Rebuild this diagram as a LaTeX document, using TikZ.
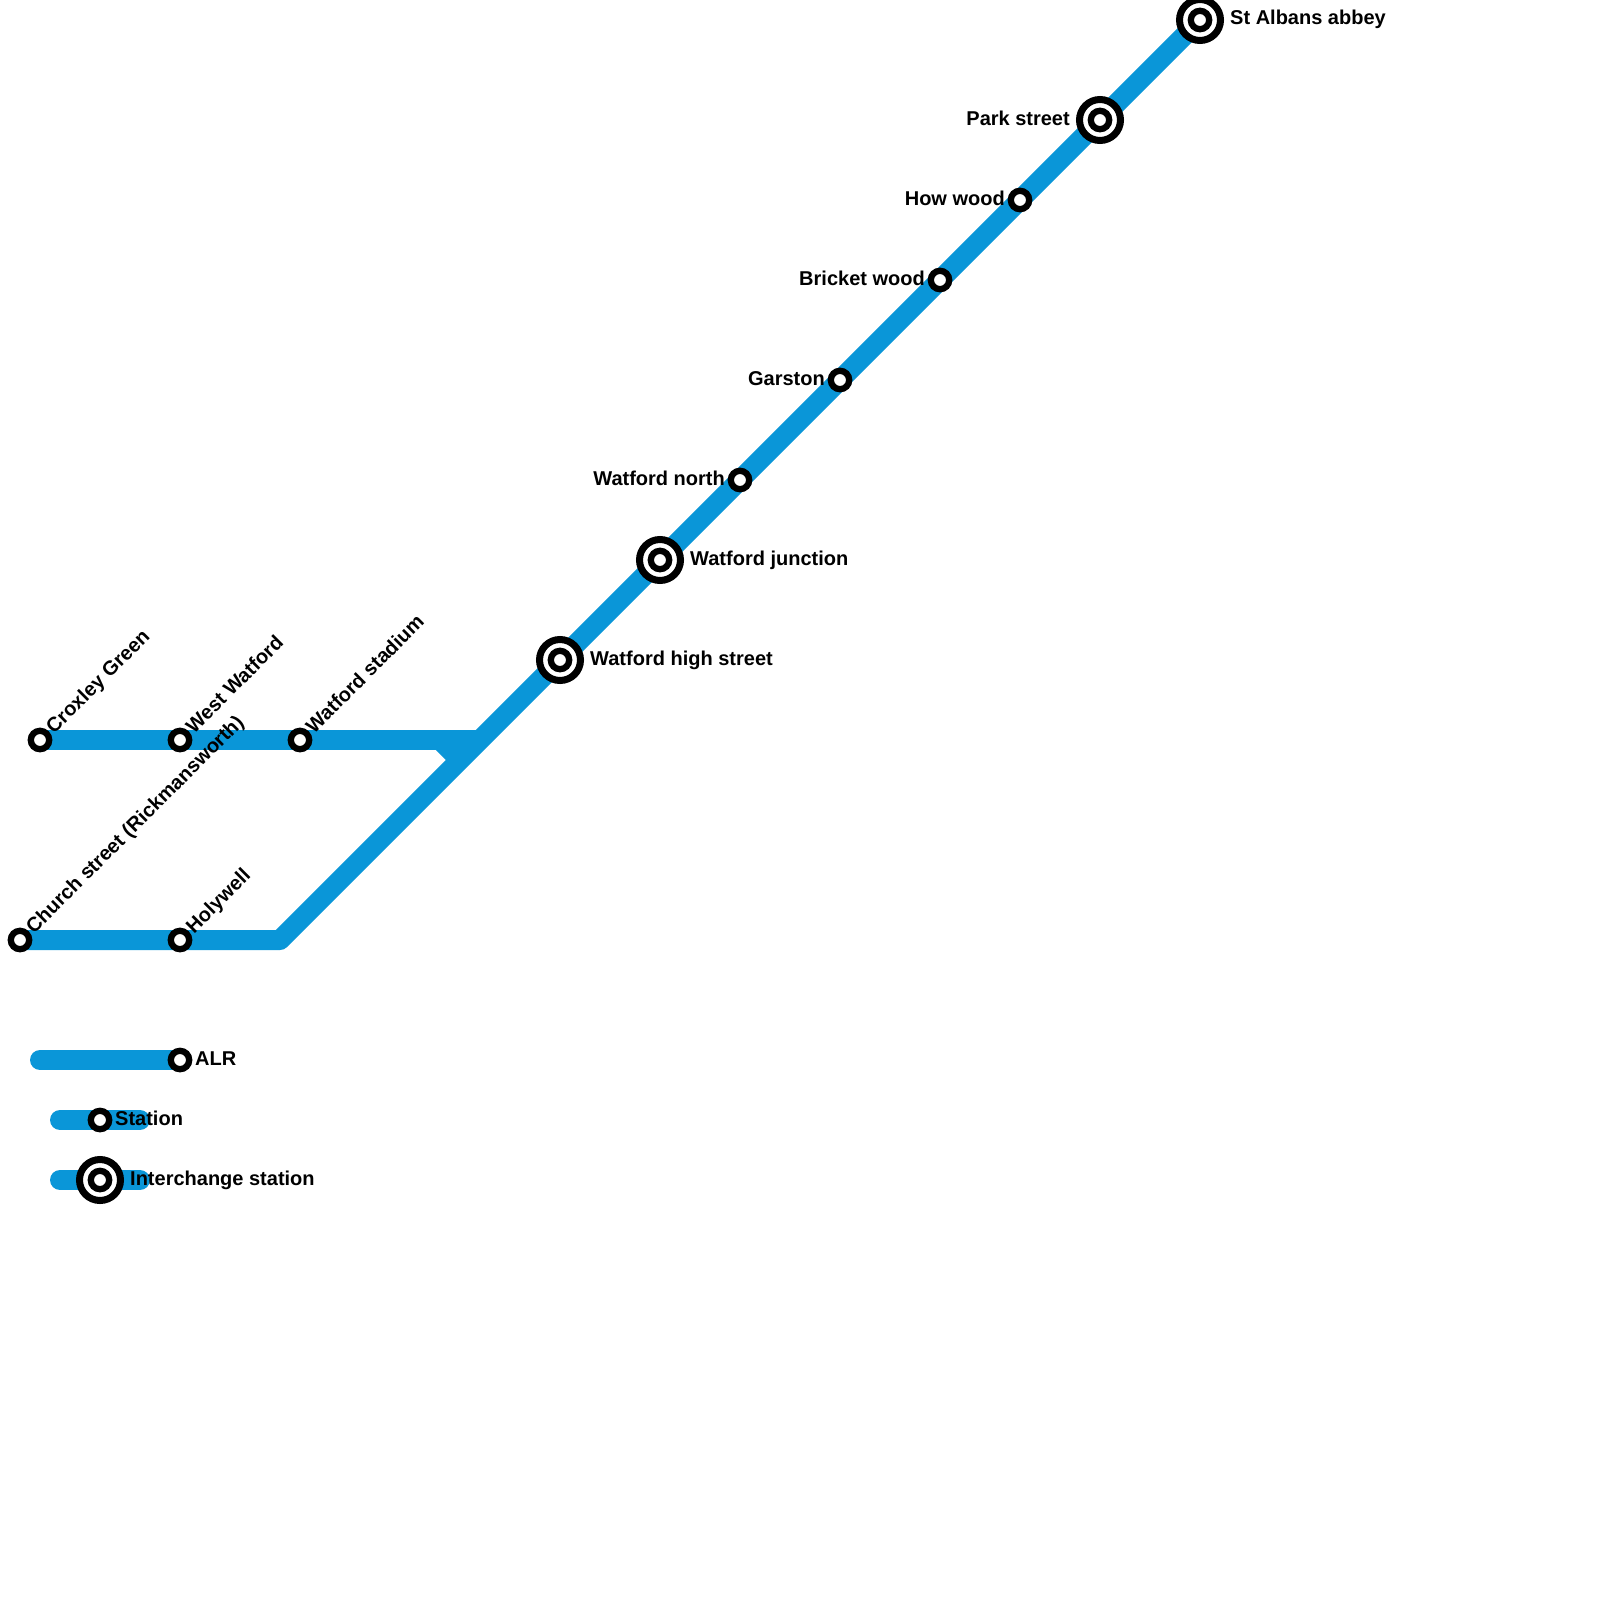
\documentclass[tikz,border=0pt]{standalone}
\usepackage{fontspec}
\setmainfont{Liberation Sans}
\usetikzlibrary{backgrounds}
\definecolor{alr}{HTML}{0A96D8}
\tikzset{
  st/.style={circle,draw=black,fill=white,line width=6.3pt,minimum size=18.4pt,inner sep=0pt,outer sep=0pt},
  ic/.style={circle,draw=black,fill=white,line width=7pt,minimum size=41pt,inner sep=0pt,outer sep=0pt},
  lbl/.style={font=\fontsize{20pt}{24pt}\selectfont\bfseries,inner sep=0pt,text=black},
  lr/.style={lbl,anchor=base west},
  ll/.style={lbl,anchor=base east},
  ld/.style={lbl,anchor=base west,rotate=45},
  track/.style={draw=alr,line width=20pt,line join=round},
  legendtrack/.style={track,line cap=round}
}
\begin{document}
\begin{tikzpicture}[x=1pt,y=-1pt]
\useasboundingbox (0,0) rectangle (1600,1600);
% stations
\node[st] (croxley) at (40,740) {};
\node[st] (westw) at (180,740) {};
\node[st] (stadium) at (300,740) {};
\node[st] (church) at (20,940) {};
\node[st] (holywell) at (180,940) {};
\node[ic] (highst) at (560,660) {}; \node[st] (highsti) at (560,660) {};
\node[ic] (junction) at (660,560) {}; \node[st] (junctioni) at (660,560) {};
\node[st] (north) at (740,480) {};
\node[st] (garston) at (840,380) {};
\node[st] (bricket) at (940,280) {};
\node[st] (howwood) at (1020,200) {};
\node[ic] (park) at (1100,120) {}; \node[st] (parki) at (1100,120) {};
\node[ic] (albans) at (1200,20) {}; \node[st] (albansi) at (1200,20) {};
\node[st] (legalr) at (180,1060) {};
\node[st] (legst) at (100,1120) {};
\node[ic] (legic) at (100,1180) {}; \node[st] (legici) at (100,1180) {};
% free ends
\coordinate (bend) at (280,940);
\coordinate (joinend) at (476,740);
\coordinate (spurA) at (440,740);
\coordinate (spurB) at (460,760);
\coordinate (legalrs) at (40,1060);
\coordinate (legsta) at (60,1120);
\coordinate (legstb) at (140,1120);
\coordinate (legica) at (60,1180);
\coordinate (legicb) at (140,1180);
\begin{scope}[on background layer]
\draw[track] (church.center) -- (holywell.center) -- (bend) -- (highst.center) -- (junction.center) -- (north.center) -- (garston.center) -- (bricket.center) -- (howwood.center) -- (park.center) -- (albans.center);
\draw[track] (croxley.center) -- (westw.center) -- (stadium.center) -- (joinend);
\draw[track] (spurA) -- (spurB);
\draw[legendtrack] (legalrs) -- (legalr.center);
\draw[legendtrack] (legsta) -- (legstb);
\draw[legendtrack] (legica) -- (legicb);
\end{scope}
% labels
\node[ld] (tcroxley) at (54,734.5) {Croxley Green};
\node[ld] (twestw) at (194,734.5) {West Watford};
\node[ld] (tstadium) at (314,734.5) {Watford stadium};
\node[ld] (tchurch) at (34,934.5) {Church street (Rickmansworth)};
\node[ld] (tholywell) at (194,934.5) {Holywell};
\node[lr] (thighst) at (590,665) {Watford high street};
\node[lr] (tjunction) at (690,565) {Watford junction};
\node[ll] (tnorth) at (725,485) {Watford north};
\node[ll] (tgarston) at (825,385) {Garston};
\node[ll] (tbricket) at (925,285) {Bricket wood};
\node[ll] (thowwood) at (1005,205) {How wood};
\node[ll] (tpark) at (1070,125) {Park street};
\node[lr] (talbans) at (1230,25) {St Albans abbey};
\node[lr] (talr) at (195,1065) {ALR};
\node[lr] (tst) at (115,1125) {Station};
\node[lr] (tic) at (130,1185) {Interchange station};
\end{tikzpicture}
\end{document}
